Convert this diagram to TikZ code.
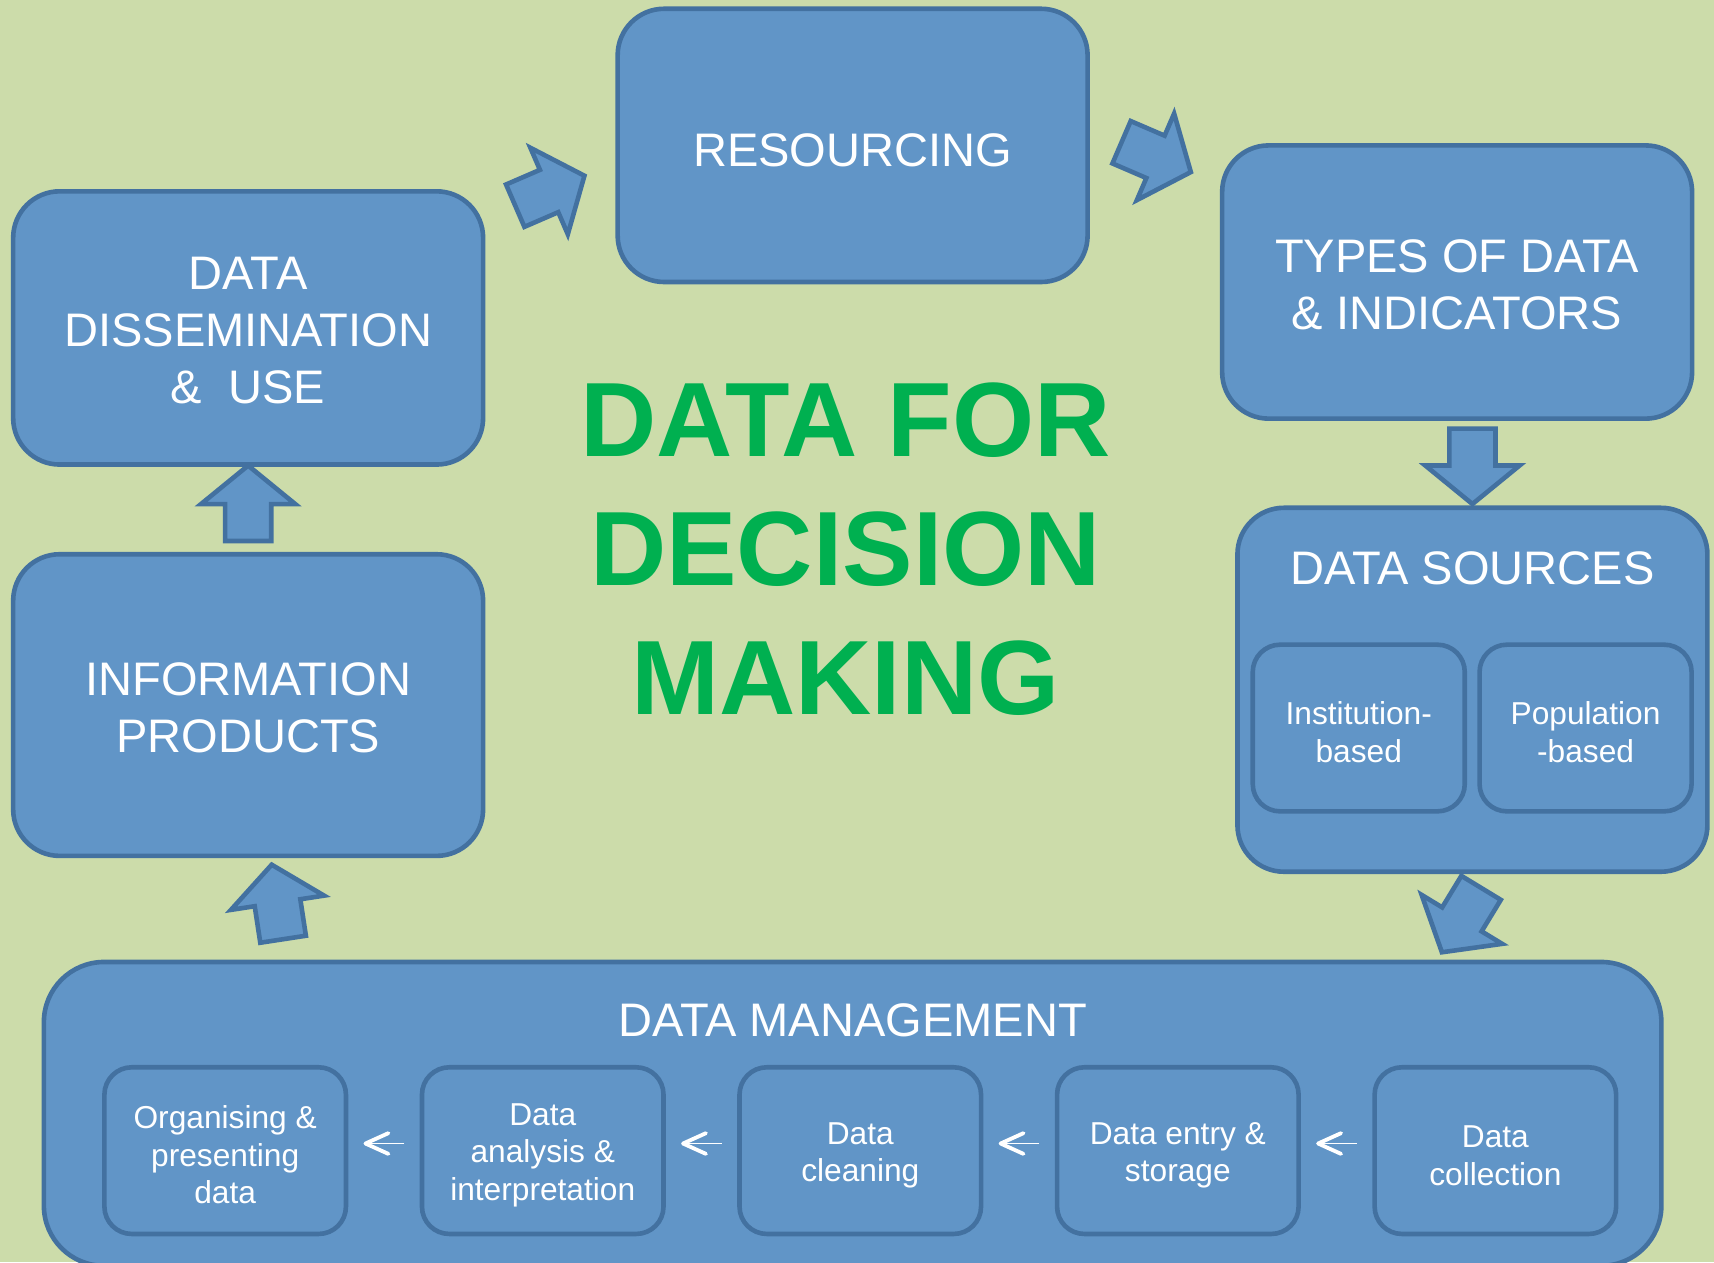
\documentclass[tikz,border=0pt]{standalone}
\usepackage{fontspec}
\setmainfont{Liberation Sans}
\usetikzlibrary{positioning,shapes.arrows,arrows.meta}
\definecolor{bggreen}{RGB}{204,220,170}
\definecolor{boxfill}{RGB}{97,149,199}
\definecolor{boxline}{RGB}{67,113,160}
\definecolor{titlegreen}{RGB}{0,176,80}
\tikzset{
  lift/.style={execute at begin node={\rule{0pt}{#1}}},
  bigbox/.style={draw=boxline, fill=boxfill, line width=2.4pt, rounded corners=0.85cm,
    text=white, align=center, inner sep=0pt, minimum width=8.6cm, minimum height=5cm,
    font=\fontsize{24.5}{29.6}\selectfont},
  smallbox/.style={draw=boxline, fill=boxfill, line width=2.4pt, rounded corners=0.5cm,
    text=white, align=center, inner sep=0pt, minimum width=4.42cm, minimum height=3.05cm,
    font=\fontsize{16.5}{19.6}\selectfont},
  boxtitle/.style={text=white, inner sep=0pt, font=\fontsize{24.5}{29.6}\selectfont},
  blockarrow/.style={single arrow, draw=boxline, fill=boxfill, line width=2.4pt,
    single arrow head extend=0.44cm, single arrow tip angle=101.5, minimum height=1.38cm,
    inner xsep=0pt, inner ysep=0.38cm, anchor=tail},
  flow/.style={draw=white, line width=1pt,
    -{Straight Barb[length=0.42cm,width=0.38cm,line width=2pt,round]},
    shorten <=0.28cm, shorten >=0.28cm}
}
\begin{document}
\begin{tikzpicture}[x=0.02cm, y=-0.02cm]
  \useasboundingbox (0,0) rectangle (1568,1154.5);
  \fill[bggreen] (0,0) rectangle (1568,1154.5);
  % main stages
  \node[bigbox, lift=22pt] (res) at (780,133) {RESOURCING};
  \node[bigbox, lift=78.5pt] (dis) at (227,300) {DATA\\DISSEMINATION\\\& \ USE};
  \node[bigbox, lift=49.5pt, minimum height=5.52cm] (inf) at (227,645) {INFORMATION\\PRODUCTS};
  \node[bigbox, lift=49.5pt] (typ) at (1333,258) {TYPES OF DATA\\\& INDICATORS};
  \node[bigbox, minimum height=6.66cm] (src) at (1347,631) {};
  \node[boxtitle, below=0.83cm of src.north] (srctitle) {DATA SOURCES};
  \node[smallbox, lift=36pt, minimum width=3.88cm] (inst) at (1243,666) {Institution-\\based};
  \node[smallbox, lift=36pt, minimum width=3.88cm] (pop) at (1450.5,666) {Population\\-based};
  \node[bigbox, minimum width=29.6cm, minimum height=5.56cm, rounded corners=1.1cm] (dm) at (780,1019) {};
  \node[boxtitle, below=0.79cm of dm.north] (dmtitle) {DATA MANAGEMENT};
  \node[smallbox, lift=55.5pt] (dm1) at (206,1052.6) {Organising \&\\presenting\\data};
  \node[smallbox, lift=55.5pt] (dm2) at (496.5,1052.6) {Data\\analysis \&\\interpretation};
  \node[smallbox, lift=36pt] (dm3) at (787,1052.6) {Data\\cleaning};
  \node[smallbox, lift=36pt] (dm4) at (1077.5,1052.6) {Data entry \&\\storage};
  \node[smallbox, lift=36pt] (dm5) at (1368,1052.6) {Data\\collection};
  % centre title
  \node[text=titlegreen, align=center, inner sep=0pt,
    font=\fontsize{55}{67}\selectfont\bfseries] (title) at (773.5,502.5) {DATA FOR\\DECISION\\MAKING};
  % steps inside data management
  \begin{scope}[flow]
    \draw ([yshift=0.13cm]dm2.west) -- ([yshift=0.13cm]dm1.east);
    \draw ([yshift=0.13cm]dm3.west) -- ([yshift=0.13cm]dm2.east);
    \draw ([yshift=0.13cm]dm4.west) -- ([yshift=0.13cm]dm3.east);
    \draw ([yshift=0.13cm]dm5.west) -- ([yshift=0.13cm]dm4.east);
  \end{scope}
  % cycle arrows
  \node[blockarrow, rotate=90] (a1) at (227,497) {};
  \node[blockarrow, rotate=98.7] (a2) at (259.3,861.3) {};
  \node[blockarrow, rotate=23.4] (a3) at (469.4,189) {};
  \node[blockarrow, rotate=-23.3] (a4) at (1024.1,129.3) {};
  \node[blockarrow, rotate=-90] (a5) at (1347,390) {};
  \node[blockarrow, rotate=238.7] (a6) at (1356,810.4) {};
\end{tikzpicture}
\end{document}
